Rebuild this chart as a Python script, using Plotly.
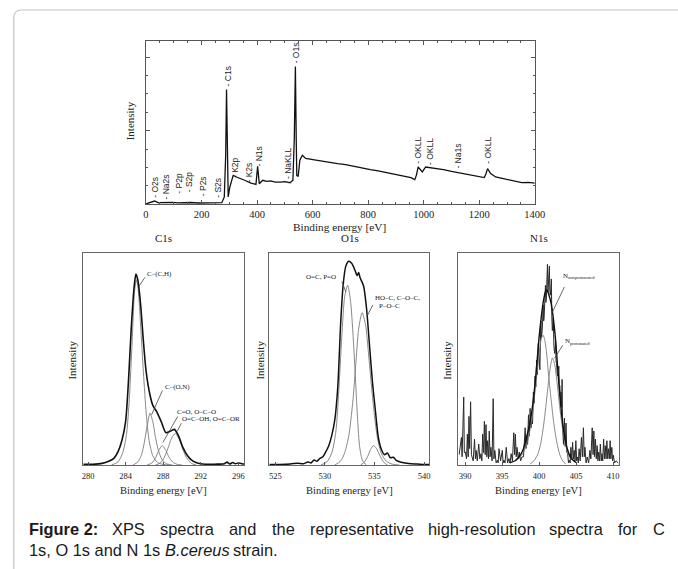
import plotly.graph_objects as go

W, H = 678, 569

# ---------------- data ----------------
# Survey spectrum (binding energy eV, intensity a.u.)
survey_be = [0, 10, 20, 31, 43, 60, 80, 96, 115, 130, 160, 190, 230, 255, 273, 282, 287, 290, 293, 296,
             302, 314, 326, 340, 355, 378, 396, 402, 408, 420, 435, 449, 465, 484, 500, 519, 529, 534,
             538, 541, 543, 548, 554, 563, 575, 601, 630, 660, 690, 719, 750, 778, 808, 836, 866, 896,
             925, 954, 968, 974, 980, 989, 995, 1007, 1024, 1048, 1071, 1100, 1130, 1160, 1189, 1218,
             1224, 1230, 1241, 1259, 1283, 1306, 1330, 1353, 1377, 1400]
survey_int = [0.3, 0.8, 1.4, 2.0, 1.0, 1.2, 1.0, 1.2, 0.9, 1.0, 1.1, 0.8, 1.0, 1.1, 1.0, 4.5, 30, 70.1, 20, 4.5,
              10.6, 17.7, 16.7, 15.5, 14.7, 13.0, 12.2, 23.2, 12.6, 14.7, 14.0, 14.3, 13.6, 13.6, 13.9, 13.2, 14.7, 40,
              84.2, 40, 17.7, 17.0, 27, 30, 28, 27.3, 26.4, 25.9, 24.9, 24.3, 23.1, 22.4, 21.2, 20.4, 19.4, 18.3,
              17.4, 16.3, 15.1, 18, 22.8, 21.2, 19.8, 22.8, 22.4, 21.6, 21.2, 20.1, 19.2, 18.3, 17.5, 16.3,
              18.5, 21.8, 18.8, 16.7, 15.8, 15.1, 14.1, 13.2, 13.4, 13.0]

survey_labels = ["O2s", "Na2s", "P2p", "S2p", "P2s", "S2s", "C1s", "K2p", "K2s", "N1s",
                 "NaKLL", "O1s", "OKLL", "OKLL", "Na1s", "OKLL"]
survey_label_be = [34, 73, 120, 155, 205, 261, 296, 323, 372, 408, 514, 541, 981, 1025, 1125, 1233]
survey_label_int = [10.4, 10.4, 12.8, 13.5, 11.0, 10.4, 78.3, 22.6, 19.6, 29.4, 25.1, 92.4, 33.0, 32.4, 29.4, 33.0]

# C1s high resolution
c1s_be = [279.5, 280.5, 281.5, 282.2, 282.75, 283.2, 283.6, 284.0, 284.3, 284.6, 284.9, 285.1, 285.3, 285.6,
          285.9, 286.2, 286.6, 286.9, 287.3, 287.8, 288.3, 288.8, 289.2, 289.6, 290.1, 290.6, 291.0, 291.5,
          292.0, 292.5, 293.5, 294.5, 294.8, 295.1, 295.4, 295.7, 296.0, 296.6]
c1s_int = [0.3, 0.4, 0.8, 1.8, 3.2, 6.5, 11.8, 21, 40, 66, 86, 92.8, 90, 78,
           60, 45, 34, 29, 26, 21, 15.7, 16.5, 17.3, 14.5, 8.6, 4.5, 2.5, 1.2,
           0.6, 0.4, 0.4, 0.6, 1.4, 0.5, 1.2, 0.6, 1.0, 0.4]
c1s_ch_be = [282.5, 283.2, 283.7, 284.1, 284.4, 284.7, 284.95, 285.15, 285.35, 285.6, 285.9, 286.2, 286.5,
             286.9, 287.4, 288.0, 288.6]
c1s_ch_int = [0, 1.5, 6, 15, 32, 60, 84, 90, 85, 68, 45, 25, 12, 4.5, 1.2, 0.3, 0]
c1s_con_be = [284.8, 285.3, 285.7, 286.0, 286.3, 286.6, 286.9, 287.2, 287.5, 287.9, 288.4, 289.0]
c1s_con_int = [0, 1.5, 5, 11, 19, 25.2, 21, 13, 7, 2.5, 0.5, 0]
c1s_co_be = [286.3, 286.8, 287.2, 287.5, 287.9, 288.3, 288.6, 289.0, 289.5, 290.0]
c1s_co_int = [0, 1, 3.5, 6.8, 9.4, 7, 4, 1.5, 0.3, 0]
c1s_cooh_be = [287.2, 287.7, 288.1, 288.5, 288.9, 289.3, 289.7, 290.1, 290.5, 291.0, 291.5]
c1s_cooh_int = [0, 1, 3.5, 8, 13, 15.3, 12.5, 7.5, 3.5, 0.8, 0]

# O1s high resolution
o1s_be = [524.4, 525.5, 526.5, 527.3, 527.8, 528.3, 528.6, 528.9, 529.2, 529.5, 529.8, 530.1, 530.4, 530.7,
          531.0, 531.3, 531.6, 531.85, 532.1, 532.4, 532.7, 533.0, 533.25, 533.4, 533.55, 533.9, 534.2,
          534.5, 534.8, 535.1, 535.4, 535.7, 536.0, 536.3, 536.6, 536.9, 537.2, 537.6, 538.1, 538.7, 539.3,
          540.0, 540.5]
o1s_int = [0.3, 0.3, 0.5, 0.9, 0.6, 1.5, 1.0, 2.4, 1.8, 3.2, 4.0, 6.5, 9.5, 14.5,
           22, 38, 70, 88, 96.5, 99, 98, 95, 92, 93.5, 91, 87, 76,
           58, 40, 26, 13, 7.5, 5, 5.8, 3.5, 3.8, 2.2, 1.5, 1.0, 0.6, 0.5,
           0.3, 0.3]
o1s_oc_be = [529.6, 530.2, 530.7, 531.1, 531.4, 531.7, 532.0, 532.3, 532.6, 532.9, 533.1, 533.3, 533.5,
             533.8, 534.2]
o1s_oc_int = [0, 1.5, 6, 16, 36, 62, 82, 87.3, 79, 58, 40, 22, 9, 2, 0]
o1s_hoc_be = [531.0, 531.6, 532.0, 532.4, 532.8, 533.1, 533.4, 533.75, 534.1, 534.4, 534.7, 535.0, 535.3,
              535.7, 536.2, 536.8, 537.5]
o1s_hoc_int = [0, 2, 6, 14, 30, 48, 66, 74, 68, 54, 38, 24, 13, 5.5, 1.8, 0.4, 0]
o1s_c3_be = [533.6, 534.0, 534.3, 534.6, 534.9, 535.2, 535.5, 535.9, 536.3]
o1s_c3_int = [0, 1.5, 4, 7.5, 9.4, 8, 5, 1.5, 0]

# N1s high resolution (raw, noisy)
n1s_be = [389.2, 389.51, 389.6, 389.82, 389.9, 390.04, 390.2, 390.31, 390.42, 390.53, 390.62, 390.75, 390.86,
          390.97, 391.1, 391.28, 391.4, 391.5, 391.65, 391.85, 392.0, 392.16, 392.27, 392.38, 392.5, 392.61,
          392.72, 392.83, 392.94, 393.05, 393.16, 393.27, 393.38, 393.49, 393.65, 393.8, 393.9, 394.02, 394.2,
          394.37, 394.48, 394.59, 394.8, 395.03, 395.14, 395.25, 395.4, 395.56, 395.75, 395.92, 396.08, 396.23,
          396.4, 396.58, 396.7, 396.8, 396.91, 397.02, 397.18, 397.33, 397.5, 397.68, 397.9, 398.12, 398.23,
          398.34, 398.45, 398.57, 398.68, 398.79, 398.9, 399.01, 399.12, 399.23, 399.34, 399.45, 399.56, 399.67,
          399.78, 399.89, 400.0, 400.11, 400.18, 400.24, 400.33, 400.42, 400.5, 400.55, 400.62, 400.68, 400.78,
          400.86, 400.92, 400.99, 401.06, 401.13, 401.2, 401.26, 401.33, 401.39, 401.45, 401.52, 401.6, 401.66,
          401.72, 401.79, 401.86, 401.92, 402.0, 402.1, 402.17, 402.23, 402.3, 402.36, 402.45, 402.54, 402.6,
          402.67, 402.74, 402.8, 402.9, 402.98, 403.05, 403.11, 403.16, 403.2, 403.3, 403.42, 403.53, 403.64,
          403.75, 403.87, 403.97, 404.08, 404.2, 404.3, 404.42, 404.53, 404.64, 404.75, 404.86, 404.97, 405.08,
          405.19, 405.3, 405.41, 405.55, 405.72, 405.85, 405.99, 406.1, 406.2, 406.35, 406.51, 406.7, 406.87,
          407.0, 407.18, 407.3, 407.4, 407.5, 407.62, 407.73, 407.84, 407.95, 408.06, 408.17, 408.28, 408.4,
          408.5, 408.6, 408.72, 408.83, 408.94, 409.05, 409.16, 409.27, 409.38, 409.5, 409.6, 409.7, 409.83,
          409.93, 410.04, 410.2, 410.4, 410.7]
n1s_int = [5, 13.4, 4, 33.0, 6, 6.3, 3, 15.0, 4, 23.6, 8, 30.7, 5,
           3.9, 2, 12.6, 3, 7.1, 2, 10.2, 3, 5.5, 2, 15.0, 6, 21.2,
           5, 19.6, 4, 11.8, 3, 16.5, 4, 8.6, 2, 32.2, 3, 7.1, 1,
           2.4, 1, 7.9, 2, 7.1, 1, 2.4, 1, 8.6, 1, 3.1, 1, 5.5,
           2, 15.7, 5, 15.0, 4, 8.6, 3, 6.3, 2, 3.9, 4, 18.1, 8,
           14.2, 10, 24.4, 14, 27.5, 18, 21.2, 20, 35.4, 30, 43.2, 38, 51.0,
           44, 59.0, 50, 46.3, 60, 70.0, 62, 65.3, 72, 77.8, 70, 71.5, 80,
           87.3, 79, 81.0, 90, 97.5, 84, 87.3, 92, 96.7, 85, 82.5, 86, 90.4,
           72, 65.3, 69, 71.5, 58, 54.2, 57, 60.5, 50, 49.5, 44, 43.2, 45,
           48.0, 37, 38.5, 30, 35.4, 28, 41.6, 20, 16.5, 10, 22.8, 9, 20.4,
           6, 5.5, 1, 2.4, 1, 8.6, 3, 11.0, 3, 7.1, 2, 11.8, 2,
           3.9, 1, 7.9, 2, 13.4, 4, 18.1, 4, 8.6, 1, 3.9, 1, 7.1,
           3, 18.1, 5, 16.5, 4, 12.6, 3, 9.4, 2, 6.3, 2, 10.2, 2,
           5.5, 2, 12.6, 3, 9.4, 3, 11.8, 3, 7.9, 3, 11.8, 3, 8.6,
           2, 4.7, 1, 2, 1]
n1s_fit_be = [396.0, 396.8, 397.3, 397.8, 398.3, 398.8, 399.2, 399.6, 400.0, 400.3, 400.6, 400.85, 401.05,
              401.3, 401.6, 401.9, 402.2, 402.5, 402.8, 403.1, 403.4, 403.8, 404.3, 405.0]
n1s_fit_int = [1, 2.2, 4, 7, 13.5, 21, 31, 45, 62, 72, 80, 84, 85,
               83, 79, 72, 62, 48, 34, 23, 15, 8, 3.5, 1.2]
n1s_a_be = [396.8, 397.5, 398.0, 398.5, 399.0, 399.4, 399.8, 400.1, 400.35, 400.55, 400.75, 401.0, 401.3,
            401.65, 402.0, 402.4, 402.8, 403.2, 403.6]
n1s_a_int = [2, 4, 7, 12, 22, 34, 48, 57, 62, 63, 61, 55, 43, 31, 20, 11, 5, 2, 0.5]
n1s_b_be = [398.8, 399.3, 399.8, 400.2, 400.6, 400.9, 401.2, 401.5, 401.8, 402.1, 402.4, 402.7, 403.0, 403.4,
            403.8, 404.3, 405.0]
n1s_b_int = [0.5, 2, 5, 10, 19, 28, 38, 47, 52, 49, 41, 31, 22, 13, 7, 3, 1]

c1s_ticks = [280, 284, 288, 292, 296]
o1s_ticks = [525, 530, 535, 540]
n1s_ticks = [390, 395, 400, 405, 410]
survey_ticks = [0, 200, 400, 600, 800, 1000, 1200, 1400]

caption_bold = "Figure 2:"
caption_line1_words = ["XPS", "spectra", "and", "the", "representative",
                       "high-resolution", "spectra", "for", "C"]
caption_line2_parts = ["1s, O 1s and N 1s", "B.cereus", "strain."]

# ---------------- helpers ----------------
def X(px):
    return px / W

def Y(py):
    return 1 - py / H

SERIF = "Liberation Serif, Times New Roman, serif"
SANS = "Liberation Sans, Arial, sans-serif"
TXT = "#222222"
GRAY = "#7a7a7a"

# Arial advance widths (per em) used to justify the first caption line
ARIAL_W = {c: w for c, w in zip("abcdefghijklmnopqrstuvwxyz",
                                [556, 556, 500, 556, 556, 278, 556, 556, 222, 222, 500, 222, 833,
                                 556, 556, 556, 556, 333, 500, 278, 556, 500, 722, 500, 500, 500])}
ARIAL_W.update({"X": 667, "P": 667, "S": 667, "C": 722, "-": 333})

def text_w(s, size):
    return sum(ARIAL_W.get(c, 556) for c in s) / 1000 * size

fig = go.Figure()

# survey
fig.add_trace(go.Scatter(x=survey_be, y=survey_int, mode="lines", xaxis="x", yaxis="y",
                         line=dict(color="#111111", width=1.3)))

def comp(x, y, xa, ya, color=GRAY, width=0.9):
    fig.add_trace(go.Scatter(x=x, y=y, mode="lines", xaxis=xa, yaxis=ya,
                             line=dict(color=color, width=width, shape="spline", smoothing=0.7)))

# C1s
for cx, cy in [(c1s_ch_be, c1s_ch_int), (c1s_con_be, c1s_con_int), (c1s_co_be, c1s_co_int),
               (c1s_cooh_be, c1s_cooh_int)]:
    comp(cx, cy, "x2", "y2")
comp(c1s_be, c1s_int, "x2", "y2", color="#111111", width=1.6)

# O1s
for cx, cy in [(o1s_oc_be, o1s_oc_int), (o1s_hoc_be, o1s_hoc_int), (o1s_c3_be, o1s_c3_int)]:
    comp(cx, cy, "x3", "y3")
comp(o1s_be, o1s_int, "x3", "y3", color="#111111", width=1.5)

# N1s
fig.add_trace(go.Scatter(x=n1s_be, y=n1s_int, mode="lines", xaxis="x4", yaxis="y4",
                         line=dict(color="#2a2a2a", width=1.0)))
comp(n1s_a_be, n1s_a_int, "x4", "y4")
comp(n1s_b_be, n1s_b_int, "x4", "y4")
comp(n1s_fit_be, n1s_fit_int, "x4", "y4", color="#111111", width=1.4)

# ---------------- axes ----------------
frame = "#555555"
layout = dict(
    width=W, height=H, autosize=False, showlegend=False,
    margin=dict(l=0, r=0, t=0, b=0),
    paper_bgcolor="white", plot_bgcolor="white",
)

layout["xaxis"] = dict(domain=[X(146), X(543)], range=[0, 1400], anchor="y",
                       tickvals=survey_ticks, ticks="inside", ticklen=4, tickcolor=frame,
                       minor=dict(dtick=50, ticks="inside", ticklen=2, tickcolor=frame),
                       showline=True, linecolor=frame, linewidth=1, mirror="ticks",
                       showgrid=False, zeroline=False,
                       tickfont=dict(family=SERIF, size=10.5, color=TXT))
layout["yaxis"] = dict(domain=[Y(204.3), Y(40.7)], range=[0, 100], anchor="x",
                       tick0=0, dtick=45, ticks="inside", ticklen=4, tickcolor=frame,
                       minor=dict(dtick=11.25, ticks="inside", ticklen=2, tickcolor=frame),
                       showticklabels=False, showline=True, linecolor=frame, linewidth=1,
                       mirror="ticks", showgrid=False, zeroline=False)

small = [("2", [82, 246], [279.5, 296.6], c1s_ticks),
         ("3", [272, 435], [524.4, 540.5], o1s_ticks),
         ("4", [465, 629], [389.1, 410.8], n1s_ticks)]
for k, (x0, x1), rng, tv in small:
    layout["xaxis" + k] = dict(domain=[X(x0), X(x1)], range=rng, anchor="y" + k,
                               tickvals=tv, ticks="inside", ticklen=3, tickcolor=frame,
                               showline=True, linecolor="#666666", linewidth=1.4, mirror=True,
                               showgrid=False, zeroline=False, ticklabelstandoff=3,
                               tickfont=dict(family=SERIF, size=8.5, color=TXT))
    layout["yaxis" + k] = dict(domain=[Y(465), Y(253)], range=[0, 103], anchor="x" + k,
                               showticklabels=False, ticks="", showline=True,
                               linecolor="#666666", linewidth=1.4, mirror=True,
                               showgrid=False, zeroline=False)

fig.update_layout(**layout)

# ---------------- annotations ----------------
ann = []

def ptext(text, px, py, size, family=SERIF, angle=0, xanchor="center", color=TXT,
          weight="normal", style="normal"):
    ann.append(dict(text=text, x=X(px), y=Y(py), xref="paper", yref="paper", showarrow=False,
                    xanchor=xanchor, yanchor="middle", textangle=angle,
                    font=dict(family=family, size=size, color=color, weight=weight, style=style)))

# axis titles / panel titles
ptext("Intensity", 130, 121, 11, angle=-90)
ptext("Binding energy [eV]", 344, 227, 11.3)
for cx, iy, bx, name in [(164, 70, 164, "C1s"), (354, 262, 354, "O1s"), (547, 453, 547, "N1s")]:
    ptext(name, cx, 238, 11)
    ptext("Intensity", iy, 360, 11, angle=-90)
    ptext("Binding energy [eV]", bx, 490, 10.5)

# survey peak labels
for lab, e, i in zip(survey_labels, survey_label_be, survey_label_int):
    ann.append(dict(text="- " + lab, x=e, y=i, xref="x", yref="y", showarrow=False,
                    textangle=-90, xanchor="center", yanchor="middle",
                    font=dict(family=SANS, size=8.5, color=TXT)))

def dtext(text, x, y, xa, ya, xanchor="left", size=7, xshift=0, yshift=0):
    ann.append(dict(text=text, x=x, y=y, xref=xa, yref=ya, showarrow=False,
                    xanchor=xanchor, yanchor="middle", xshift=xshift, yshift=yshift,
                    font=dict(family=SERIF, size=size, color=TXT)))

dtext("C–(C,H)", 286.07, 92.9, "x2", "y2")
dtext("C–(O,N)", 287.95, 37.7, "x2", "y2")
dtext("C=O, O–C–O", 289.31, 25.6, "x2", "y2")
dtext("O=C–OH, O=C–OR", 289.83, 22.3, "x2", "y2")
dtext("O=C, P=O", 531.35, 91.2, "x3", "y3", xanchor="right")
dtext("HO–C, C–O–C,", 534.87, 81.0, "x3", "y3")
dtext("P–O–C", 535.27, 77.2, "x3", "y3")
# N with subscripts
dtext("N", 402.98, 92.0, "x4", "y4")
dtext("nonprotonated", 402.98, 92.0, "x4", "y4", size=4.6, xshift=5, yshift=-2)
dtext("N", 403.2, 60.2, "x4", "y4")
dtext("protonated", 403.2, 60.2, "x4", "y4", size=4.6, xshift=5, yshift=-2)

# caption: bold lead + justified first line (words spread evenly up to the right margin)
CAP = 16.4
left, right = 24, 673
bold_w = 69.3  # "Figure 2:" in bold at CAP size
ptext(caption_bold, left, 529, CAP, family=SANS, xanchor="left", color="#1a1a1a", weight="bold")
widths = [text_w(wd, CAP) for wd in caption_line1_words]
gap = (right - left - bold_w - sum(widths)) / len(caption_line1_words)
xpos = left + bold_w + gap
for wd, wdw in zip(caption_line1_words, widths):
    ptext(wd, xpos, 529, CAP, family=SANS, xanchor="left", color="#1a1a1a")
    xpos += wdw + gap
ptext(caption_line2_parts[0], 24, 550, CAP, family=SANS, xanchor="left", color="#1a1a1a")
ptext(caption_line2_parts[1], 163.5, 550, CAP, family=SANS, xanchor="left", color="#1a1a1a", style="italic")
ptext(caption_line2_parts[2], 232.5, 550, CAP, family=SANS, xanchor="left", color="#1a1a1a")

fig.update_layout(annotations=ann)

# leader lines (data coordinates)
leaders = [("x2", "y2", 286.07, 91.2, 285.37, 86.5),
           ("x2", "y2", 287.92, 36.2, 286.77, 24.4),
           ("x2", "y2", 289.55, 23.6, 287.98, 11.0),
           ("x2", "y2", 289.94, 20.3, 289.52, 16.5),
           ("x3", "y3", 531.71, 89.2, 532.11, 84.1),
           ("x3", "y3", 534.84, 77.8, 534.25, 72.3),
           ("x4", "y4", 403.42, 86.5, 401.75, 73.9),
           ("x4", "y4", 403.2, 58.2, 402.09, 51.9)]
shapes = []
for xa, ya, xa0, ya0, xb, yb in leaders:
    shapes.append(dict(type="line", xref=xa, yref=ya, x0=xa0, y0=ya0, x1=xb, y1=yb,
                       line=dict(color="#444444", width=0.8)))

# rounded figure border
path = (f"M {X(11)},{Y(620)} L {X(11)},{Y(18)} Q {X(11)},{Y(10)} {X(19)},{Y(10)} L {X(720)},{Y(10)}")
shapes.append(dict(type="path", xref="paper", yref="paper", path=path,
                   line=dict(color="#c4c4c4", width=1.2)))
fig.update_layout(shapes=shapes)

fig.write_html("out.html")
